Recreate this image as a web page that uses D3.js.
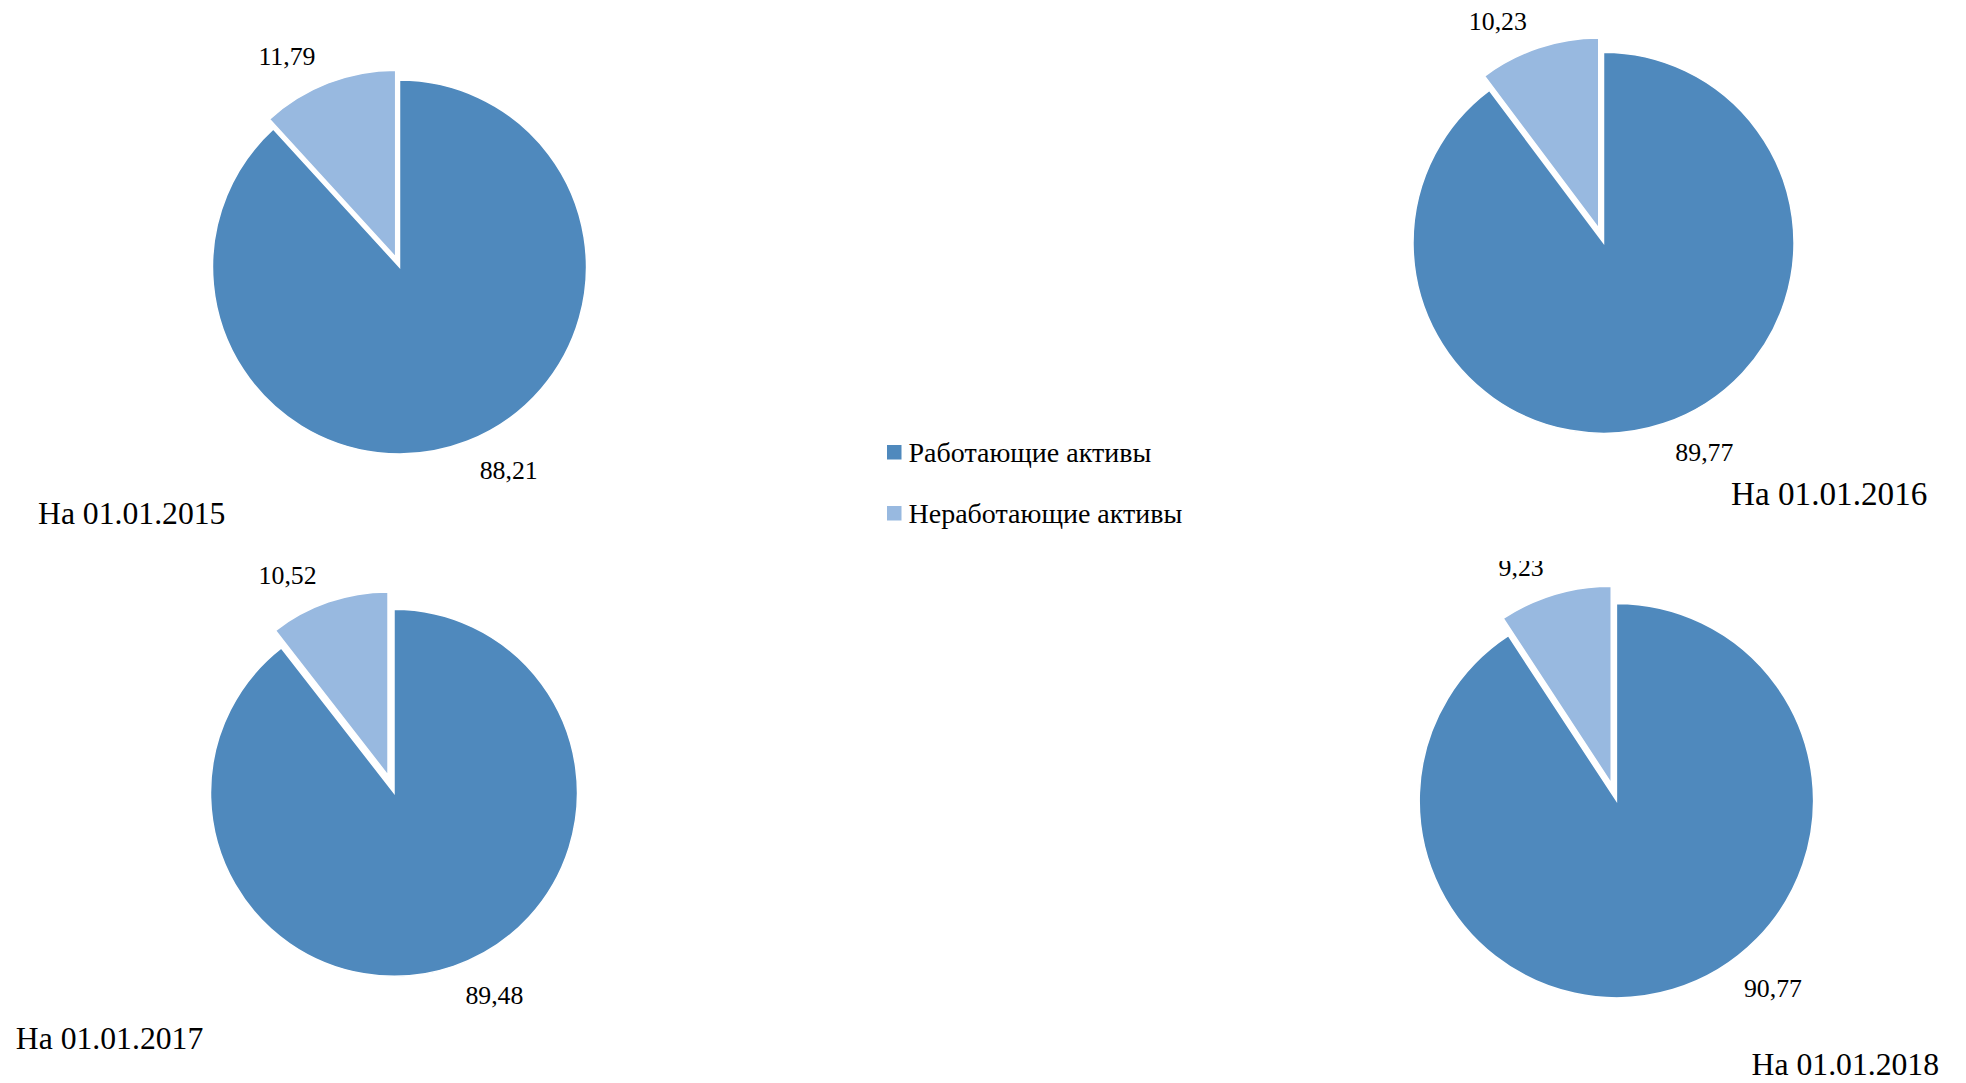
<!DOCTYPE html>
<html>
<head>
<meta charset="utf-8">
<script src="https://cdn.jsdelivr.net/npm/d3@7"></script>
<style>
  html, body { margin: 0; padding: 0; background: #ffffff; }
  svg { display: block; }
  text { font-family: "Liberation Serif", "Times New Roman", "DejaVu Serif", serif; fill: #000; }
</style>
</head>
<body>
<svg id="chart" width="1966" height="1083"></svg>
<script>
// ---------- data ----------
const dates = ["На 01.01.2015", "На 01.01.2016", "На 01.01.2017", "На 01.01.2018"];
const seriesNames = ["Работающие активы", "Неработающие активы"];
const working = [88.21, 89.77, 89.48, 90.77];
const nonWorking = [11.79, 10.23, 10.52, 9.23];

// ---------- layout / style ----------
const FONT = "'Liberation Serif', 'Times New Roman', 'DejaVu Serif', serif";
const colors = ["#4F89BD", "#98B9E0"];
const layout = [
  { cx: 399.5, cy: 267, r: 187, explode: 10.5, title: { x: 38, y: 523.5, size: 31.7 }, nudge: [[0, 0], [0, 0]] },
  { cx: 1603.5, cy: 242.8, r: 190.5, explode: 15, title: { x: 1731, y: 504.5, size: 33.2 }, nudge: [[0, 0], [0, 0]] },
  { cx: 394, cy: 792.8, r: 183.5, explode: 18.4, title: { x: 15.8, y: 1049, size: 31.7 }, nudge: [[0, 0], [0, 0]] },
  { cx: 1616.4, cy: 800.6, r: 197.2, explode: 18, title: { x: 1751.6, y: 1075, size: 31.7 }, nudge: [[60, -30], [0, 0]],
    clip: { x: 1340, y: 561, w: 626, h: 522 } }
];
const labelGap = 18, labelPadX = 6, labelPadY = [12, 9.5], labelSize = 25.8;

const svg = d3.select("#chart");
const color = d3.scaleOrdinal(seriesNames, colors);
const ru = d3.formatLocale({ decimal: ",", thousands: " ", grouping: [3], currency: ["", ""] });
const fmt = ru.format(".2f");

const pie = d3.pie().sort(null).value(d => d.value).startAngle(0).endAngle(2 * Math.PI);

const defs = svg.append("defs");

dates.forEach((date, i) => {
  const L = layout[i];
  const data = [
    { name: seriesNames[0], value: working[i] },
    { name: seriesNames[1], value: nonWorking[i] }
  ];
  const arcs = pie(data);
  const arc = d3.arc().innerRadius(0).outerRadius(L.r);

  const g = svg.append("g");
  if (L.clip) {
    const id = "clip" + i;
    defs.append("clipPath").attr("id", id)
      .append("rect").attr("x", L.clip.x).attr("y", L.clip.y).attr("width", L.clip.w).attr("height", L.clip.h);
    g.attr("clip-path", `url(#${id})`);
  }
  const pg = g.append("g").attr("transform", `translate(${L.cx},${L.cy})`);

  arcs.forEach((a, j) => {
    const mid = (a.startAngle + a.endAngle) / 2;
    const dx = Math.sin(mid), dy = -Math.cos(mid);
    const ex = j === 1 ? L.explode : 0;
    const ox = dx * ex, oy = dy * ex;

    pg.append("path")
      .attr("d", arc(a))
      .attr("transform", `translate(${ox},${oy})`)
      .attr("fill", color(a.data.name))
      .attr("stroke", "#ffffff")
      .attr("stroke-width", 1.5)
      .attr("stroke-linejoin", "miter");

    // label outside end
    const px = ox + dx * (L.r + labelGap);
    const py = oy + dy * (L.r + labelGap);
    const sx = dx >= 0 ? 1 : -1, sy = dy >= 0 ? 1 : -1;
    const n = L.nudge[j];
    pg.append("text")
      .attr("x", px + sx * labelPadX + n[0])
      .attr("y", py + sy * labelPadY[j] + n[1])
      .attr("dy", "0.33em")
      .attr("text-anchor", sx > 0 ? "start" : "end")
      .attr("font-family", FONT)
      .style("font-size", labelSize + "px")
      .text(fmt(a.data.value));
  });

  svg.append("text")
    .attr("x", L.title.x)
    .attr("y", L.title.y)
    .attr("font-family", FONT)
    .style("font-size", L.title.size + "px")
    .text(date);
});

// legend
const legend = svg.append("g").attr("transform", "translate(887,445)");
seriesNames.forEach((name, k) => {
  const row = legend.append("g").attr("transform", `translate(0,${k * 61})`);
  row.append("rect").attr("x", 0).attr("y", 0).attr("width", 14.5).attr("height", 14.5).attr("fill", color(name));
  row.append("text").attr("x", 21.5).attr("y", 17).attr("font-family", FONT).style("font-size", "28px").text(name);
});
</script>
</body>
</html>
